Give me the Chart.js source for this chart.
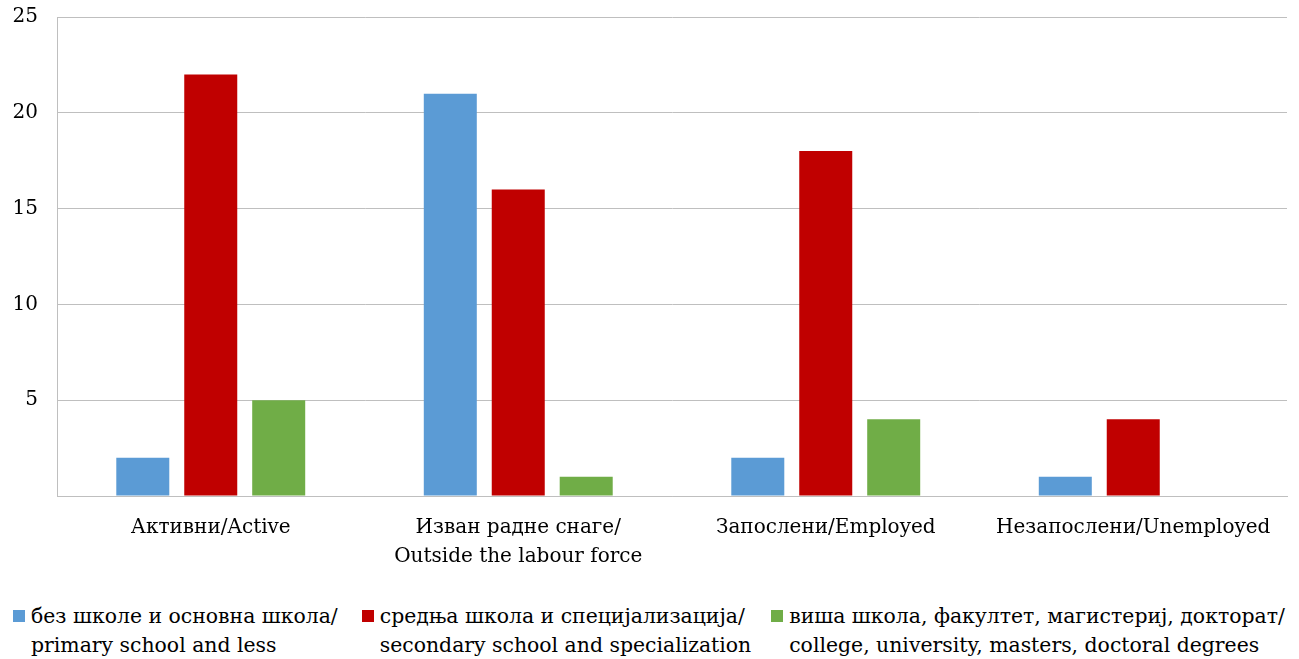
<!DOCTYPE html>
<html>
<head>
<meta charset="utf-8">
<script src="https://cdn.jsdelivr.net/npm/chart.js@4.4.1/dist/chart.umd.min.js"></script>
<style>
    body { margin: 0; background: #fff; font-family: "DejaVu Serif", serif; }
    #wrap { position: relative; width: 1299px; height: 659px; }
    #chartBox { position: absolute; left: 0; top: 0; width: 1299px; height: 590px; }
    #legend { position: absolute; left: 13px; top: 602px; display: flex; font-size: 20.4px; line-height: 29px; color: #000; }
    .item { display: flex; align-items: flex-start; }
    .item:nth-child(1) { margin-right: 24px; }
    .item:nth-child(2) { margin-right: 20px; }
    .box { width: 12px; height: 12px; margin-top: 8px; margin-right: 6px; flex: none; }
</style>
</head>
<body>
<div id="wrap">
    <div id="chartBox"><canvas id="eduChart"></canvas></div>
    <div id="legend"></div>
</div>
<script>
// categories (x axis), each split into two lines
const categories = [
    ['Активни/Active'],
    ['Изван радне снаге/', 'Outside the labour force'],
    ['Запослени/Employed'],
    ['Незапослени/Unemployed']
];

// series labels (two lines each) and colours
const seriesNames = [
    ['без школе и основна школа/', 'primary school and less'],
    ['средња школа и специјализација/', 'secondary school and specialization'],
    ['виша школа, факултет, магистериј, докторат/', 'college, university, masters, doctoral degrees']
];
const seriesColors = ['#5b9bd5', '#c00000', '#70ad47'];

// values
const primaryVals = [2, 21, 2, 1];
const secondaryVals = [22, 16, 18, 4];
const higherVals = [5, 1, 4, 0];

const yTicks = [0, 5, 10, 15, 20, 25];

const allVals = [primaryVals, secondaryVals, higherVals];
const FONT = '"DejaVu Serif", serif';

const datasets = allVals.map((vals, i) => ({
    label: seriesNames[i].join(' '),
    data: vals,
    backgroundColor: seriesColors[i],
    borderWidth: 0,
    categoryPercentage: 0.663,
    barPercentage: 0.78
}));

new Chart(document.getElementById('eduChart'), {
    type: 'bar',
    data: { labels: categories, datasets: datasets },
    options: {
        responsive: true,
        maintainAspectRatio: false,
        animation: false,
        layout: { padding: { top: 0, right: 12, left: 0, bottom: 0 } },
        plugins: {
            legend: { display: false },
            tooltip: { enabled: false }
        },
        scales: {
            x: {
                grid: { display: false, drawTicks: false },
                border: { color: '#bfbfbf', width: 1 },
                ticks: {
                    color: '#000',
                    font: { family: FONT, size: 20, lineHeight: 1.45 },
                    padding: 17,
                    maxRotation: 0,
                    autoSkip: false
                },
                afterFit: s => { s.height = 94; }
            },
            y: {
                min: yTicks[0],
                max: yTicks[yTicks.length - 1],
                afterBuildTicks: s => { s.ticks = yTicks.map(v => ({ value: v })); },
                // invisible tick marks push the labels left without adding top padding
                grid: { color: '#bfbfbf', lineWidth: 1, drawTicks: true, tickLength: 14, tickColor: 'rgba(0,0,0,0)' },
                border: { color: '#bfbfbf', width: 1 },
                ticks: {
                    color: '#000',
                    font: { family: FONT, size: 20 },
                    padding: 5,
                    callback: v => v === 0 ? '' : v
                },
                afterFit: s => { s.width = 57; }
            }
        }
    }
});

// legend in html so the labels can wrap to two lines
const legendEl = document.getElementById('legend');
seriesNames.forEach((lines, i) => {
    const item = document.createElement('div');
    item.className = 'item';
    item.innerHTML = '<span class="box" style="background:' + seriesColors[i] + '"></span>' +
        '<span>' + lines.join('<br>') + '</span>';
    legendEl.appendChild(item);
});
</script>
</body>
</html>
